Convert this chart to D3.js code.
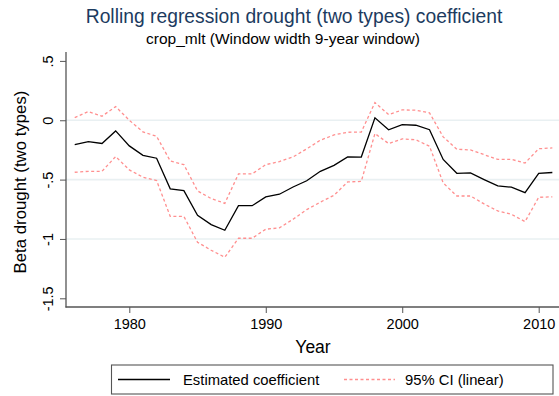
<!DOCTYPE html>
<html>
<head>
<meta charset="utf-8">
<script src="https://cdn.jsdelivr.net/npm/d3@7"></script>
<style>
  html, body { margin: 0; padding: 0; background: #fff; }
  svg { display: block; font-family: "Liberation Sans", Arial, sans-serif; }
</style>
</head>
<body>
<svg id="chart" width="559" height="396"></svg>
<script>
// Rolling 9-year window estimates, one per end year
const years = [1976,1977,1978,1979,1980,1981,1982,1983,1984,1985,1986,1987,1988,1989,1990,1991,1992,1993,
               1994,1995,1996,1997,1998,1999,2000,2001,2002,2003,2004,2005,2006,2007,2008,2009,2010,2011];
const coef  = [-0.205,-0.18,-0.196,-0.09,-0.216,-0.295,-0.32,-0.578,-0.593,-0.80,-0.879,-0.927,-0.72,-0.72,-0.646,-0.623,-0.562,-0.51,
               -0.43,-0.38,-0.309,-0.31,0.02,-0.08,-0.037,-0.042,-0.08,-0.33,-0.447,-0.444,-0.5,-0.553,-0.564,-0.61,-0.447,-0.44];
const upper = [0.022,0.073,0.034,0.115,0.0,-0.098,-0.135,-0.343,-0.374,-0.595,-0.66,-0.70,-0.452,-0.452,-0.374,-0.348,-0.309,-0.241,
               -0.168,-0.124,-0.101,-0.10,0.149,0.048,0.087,0.085,0.062,-0.14,-0.244,-0.25,-0.29,-0.33,-0.33,-0.36,-0.24,-0.233];
const lower = [-0.438,-0.43,-0.43,-0.306,-0.418,-0.48,-0.508,-0.81,-0.81,-1.028,-1.095,-1.154,-0.994,-0.994,-0.918,-0.907,-0.834,-0.753,
               -0.69,-0.632,-0.52,-0.515,-0.112,-0.196,-0.157,-0.165,-0.219,-0.528,-0.638,-0.638,-0.705,-0.764,-0.792,-0.854,-0.649,-0.645];
const xTicks = [1980, 1990, 2000, 2010];
const yTicks = [0.5, 0, -0.5, -1, -1.5];
const yTickLabels = [".5", "0", "-.5", "-1", "-1.5"];
const gridValues = [0, -0.5, -1];

const titleText = "Rolling regression drought (two types) coefficient";
const subtitleText = "crop_mlt (Window width 9-year window)";
const xTitle = "Year";
const yTitle = "Beta drought (two types)";
const legendLabels = ["Estimated coefficient", "95% CI (linear)"];

const svg = d3.select("#chart");
const plot = { left: 66, right: 559, top: 52, bottom: 307 };

const x = d3.scaleLinear().domain([1980, 2010]).range([129.3, 538.7]);
const y = d3.scaleLinear().domain([-1.5, 0.5]).range([298.3, 60.9]);

const axisColor = "#555";
const ciColor = "#ff8f8f";
const fontFam = "Liberation Sans, Arial, sans-serif";

// Titles
svg.append("text").attr("x", 294).attr("y", 23).attr("text-anchor", "middle")
  .attr("font-size", 19.3).attr("fill", "#1c3b60").text(titleText);
svg.append("text").attr("x", 283).attr("y", 43.5).attr("text-anchor", "middle")
  .attr("font-size", 15.5).attr("fill", "#000").text(subtitleText);

// Horizontal grid lines
svg.append("g").selectAll("line").data(gridValues).join("line")
  .attr("x1", plot.left).attr("x2", plot.right)
  .attr("y1", d => y(d)).attr("y2", d => y(d))
  .attr("stroke", "#e9f0f2").attr("stroke-width", 1.6);

// Y axis
const yAxis = d3.axisLeft(y).tickValues(yTicks).tickSize(6)
  .tickFormat((d, i) => yTickLabels[i]);
const gy = svg.append("g").attr("transform", `translate(${plot.left},0)`).call(yAxis);
gy.select(".domain").remove();
gy.selectAll(".tick line").attr("stroke", axisColor);
gy.selectAll(".tick text")
  .attr("x", 0).attr("y", 0).attr("dy", null)
  .attr("transform", "translate(-13,0) rotate(-90)")
  .attr("text-anchor", "middle")
  .attr("font-size", 14.5).attr("fill", "#000")
  .attr("font-family", fontFam);
svg.append("line").attr("x1", plot.left).attr("x2", plot.left)
  .attr("y1", plot.top).attr("y2", plot.bottom + 0.5)
  .attr("stroke", axisColor).attr("stroke-width", 1.3);

// X axis
const xAxis = d3.axisBottom(x).tickValues(xTicks).tickSize(6).tickFormat(d3.format("d"));
const gx = svg.append("g").attr("transform", `translate(0,${plot.bottom})`).call(xAxis);
gx.select(".domain").remove();
gx.selectAll(".tick line").attr("stroke", axisColor);
gx.selectAll(".tick text").attr("y", 12).attr("dy", "0.71em")
  .attr("font-size", 14.5).attr("fill", "#000")
  .attr("font-family", fontFam);
svg.append("line").attr("x1", plot.left - 0.5).attr("x2", plot.right)
  .attr("y1", plot.bottom).attr("y2", plot.bottom)
  .attr("stroke", axisColor).attr("stroke-width", 1.3);

// Axis titles
svg.append("text").attr("x", 313).attr("y", 353).attr("text-anchor", "middle")
  .attr("font-size", 17.5).attr("fill", "#000").text(xTitle);
svg.append("text").attr("transform", "translate(26,182) rotate(-90)")
  .attr("text-anchor", "middle").attr("font-size", 16.8).attr("fill", "#000").text(yTitle);

// Series
const line = vals => d3.line().x((d, i) => x(years[i])).y(d => y(d))(vals);
svg.append("path").attr("d", line(upper)).attr("fill", "none")
  .attr("stroke", ciColor).attr("stroke-width", 1.3).attr("stroke-dasharray", "3,2.5");
svg.append("path").attr("d", line(lower)).attr("fill", "none")
  .attr("stroke", ciColor).attr("stroke-width", 1.3).attr("stroke-dasharray", "3,2.5");
svg.append("path").attr("d", line(coef)).attr("fill", "none")
  .attr("stroke", "#000").attr("stroke-width", 1.3);

// Legend
const lg = svg.append("g");
lg.append("rect").attr("x", 111.5).attr("y", 365).attr("width", 441.5).attr("height", 29)
  .attr("fill", "#fff").attr("stroke", axisColor).attr("stroke-width", 1.1);
lg.append("line").attr("x1", 118).attr("x2", 170).attr("y1", 379.5).attr("y2", 379.5)
  .attr("stroke", "#000").attr("stroke-width", 1.3);
lg.append("text").attr("x", 183).attr("y", 384.5).attr("font-size", 14.8).text(legendLabels[0]);
lg.append("line").attr("x1", 344).attr("x2", 395).attr("y1", 379.5).attr("y2", 379.5)
  .attr("stroke", ciColor).attr("stroke-width", 1.3).attr("stroke-dasharray", "3,2.5");
lg.append("text").attr("x", 405).attr("y", 384.5).attr("font-size", 14.8).text(legendLabels[1]);
</script>
</body>
</html>
